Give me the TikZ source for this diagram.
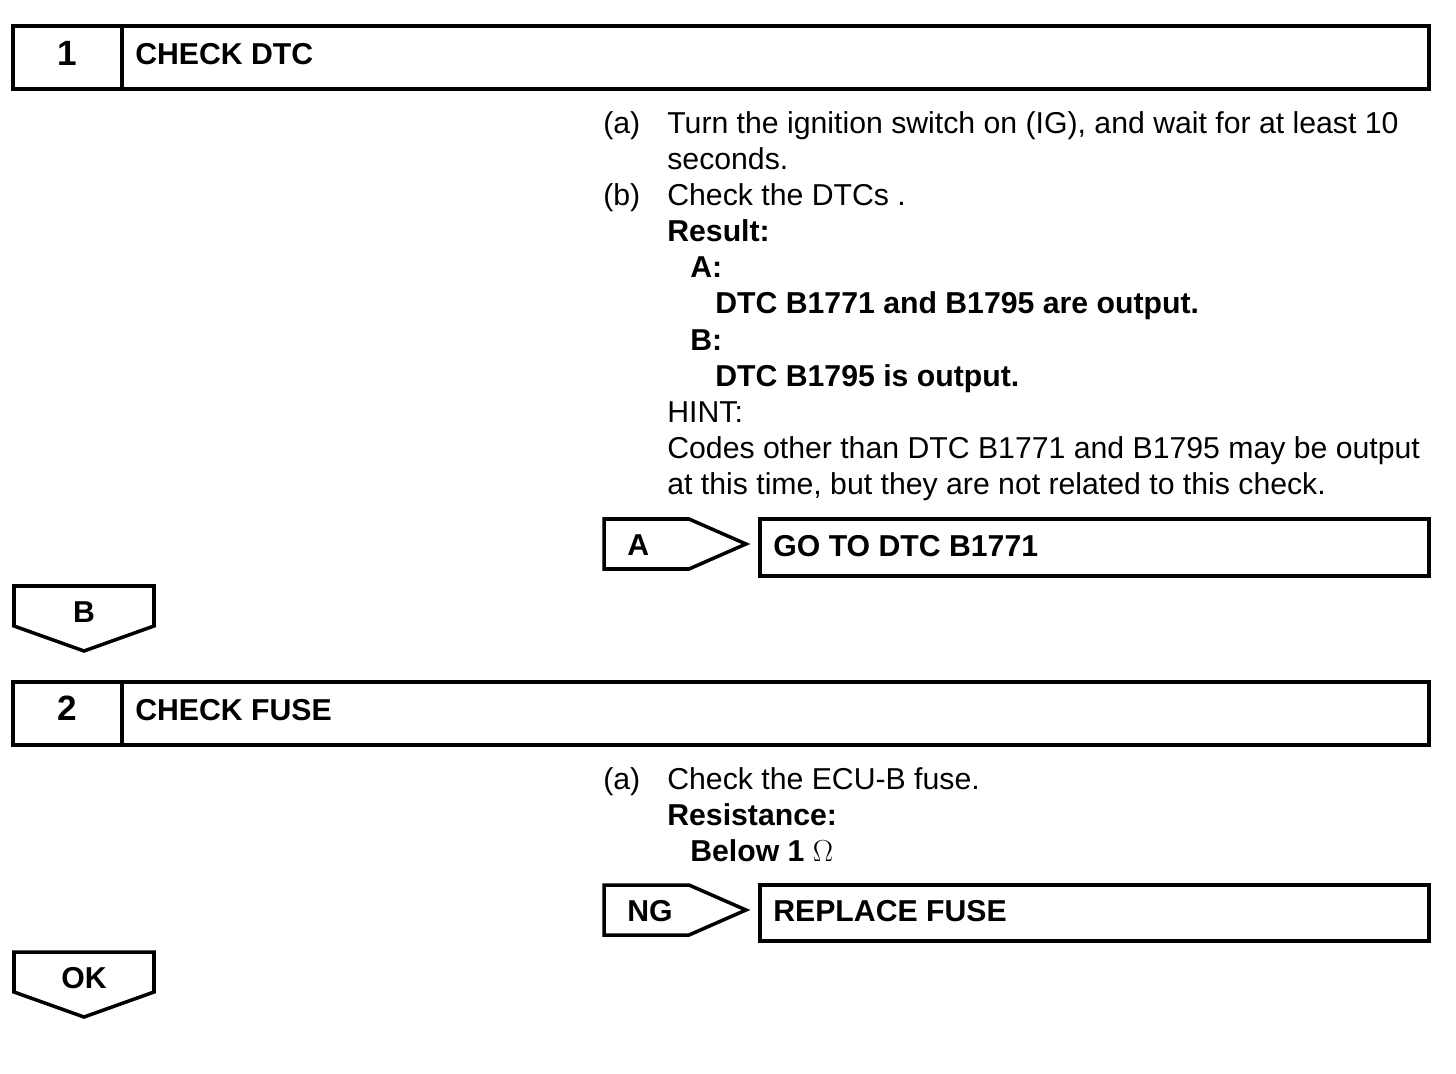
\documentclass[tikz,border=0pt]{standalone}
\usepackage{fontspec}
\setmainfont{Liberation Sans}
\usetikzlibrary{positioning,calc}

\begin{document}
\begin{tikzpicture}[x=0.02cm, y=-0.02cm,
        frame/.style={line width=2pt, line join=miter},
        txt/.style={anchor=base west, inner sep=0pt, font=\fontsize{17.2}{20.4}\selectfont},
        btxt/.style={txt, font=\fontsize{17.2}{20.4}\selectfont\bfseries},
        numtxt/.style={anchor=base, inner sep=0pt, font=\fontsize{20}{24}\selectfont\bfseries}
    ]
        \useasboundingbox (0,0) rectangle (1456,1074);

        % Step 1 header
        \draw[frame] (13,26) rectangle (1429,89);
        \draw[frame] (122,26) -- (122,89);
        \node[numtxt] (num1) at (67,66) {1};
        \node[btxt] (head1) at (135,65) {CHECK DTC};

        % Step 1 text
        \node[txt] (a1) at (603,134) {(a)};
        \node[txt] (a1l1) at (667,134) {Turn the ignition switch on (IG), and wait for at least 10};
        \node[txt] (a1l2) at (667,170) {seconds.};
        \node[txt] (b1) at (603,206) {(b)};
        \node[txt] (b1l1) at (667,206) {Check the DTCs .};
        \node[btxt] (res1) at (667,242) {Result:};
        \node[btxt] (resA) at (690,278) {A:};
        \node[btxt] (resAt) at (715,314) {DTC B1771 and B1795 are output.};
        \node[btxt] (resB) at (690,350) {B:};
        \node[btxt] (resBt) at (715,386) {DTC B1795 is output.};
        \node[txt] (hint1) at (667,422) {HINT:};
        \node[txt] (hint1l1) at (667,458) {Codes other than DTC B1771 and B1795 may be output};
        \node[txt] (hint1l2) at (667,494) {at this time, but they are not related to this check.};

        % Branch A
        \draw[frame] (604,519) -- (689,519) -- (746,544) -- (689,569) -- (604,569) -- cycle;
        \node[btxt] (labA) at (627,555) {A};
        \draw[frame] (760,519) rectangle (1429,576);
        \node[btxt] (goA) at (773,556) {GO TO DTC B1771};

        % Branch B
        \draw[frame] (14,586) -- (154,586) -- (154,626) -- (84,651) -- (14,626) -- cycle;
        \node[btxt, anchor=base] (labB) at (84,622) {B};

        % Step 2 header
        \draw[frame] (13,682) rectangle (1429,745);
        \draw[frame] (122,682) -- (122,745);
        \node[numtxt] (num2) at (67,720) {2};
        \node[btxt] (head2) at (135,720) {CHECK FUSE};

        % Step 2 text
        \node[txt] (a2) at (603,789) {(a)};
        \node[txt] (a2l1) at (667,789) {Check the ECU-B fuse.};
        \node[btxt] (res2) at (667,825) {Resistance:};
        \node[btxt] (res2v) at (690,861) {Below 1 $\Omega$};

        % Branch NG
        \draw[frame] (604,885) -- (689,885) -- (746,910) -- (689,935) -- (604,935) -- cycle;
        \node[btxt] (labNG) at (627,921) {NG};
        \draw[frame] (760,885) rectangle (1429,941);
        \node[btxt] (goNG) at (773,921) {REPLACE FUSE};

        % Branch OK
        \draw[frame] (14,952) -- (154,952) -- (154,992) -- (84,1017) -- (14,992) -- cycle;
        \node[btxt, anchor=base] (labOK) at (84,988) {OK};
    \end{tikzpicture}
\end{document}
